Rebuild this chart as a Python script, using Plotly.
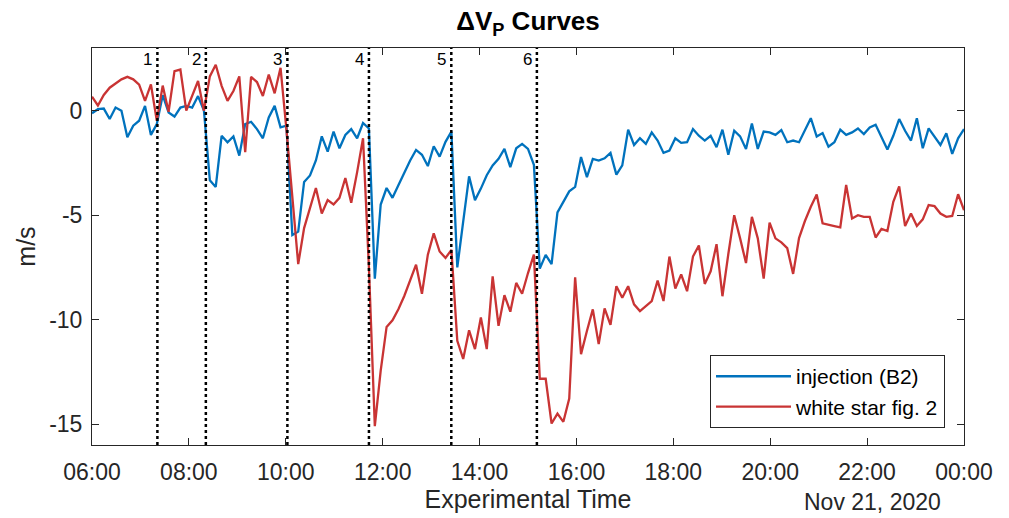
import pandas as pd
import plotly.graph_objects as go

start_time = "2020-11-21 06:00"
end_time = "2020-11-22 00:00"
n_points = 149

blue_vals = [
    -0.12, 0.07, 0.10, -0.40, 0.15, 0.00, -1.27, -0.72, -0.48, 0.23,
    -1.16, -0.64, 0.74, -0.09, -0.28, 0.15, 0.23, 0.15, 0.70, 0.00,
    -3.33, -3.65, -1.20, -1.51, -1.23, -2.15, -0.64, -0.53, -0.88, -1.32,
    -0.32, 0.23, -0.80, -0.72, -5.95, -5.79, -3.41, -3.10, -2.38, -1.23,
    -1.96, -1.00, -1.80, -1.16, -0.88, -1.32, -0.59, -0.85, -8.04, -4.49,
    -3.70, -4.17, -3.57, -2.98, -2.38, -1.88, -2.11, -2.65, -1.70, -2.20,
    -1.49, -1.00, -7.50, -5.31, -3.14, -4.28, -3.73, -3.09, -2.62, -2.30,
    -1.83, -2.70, -1.80, -1.59, -1.83, -2.59, -7.56, -6.90, -7.34, -4.87,
    -4.33, -3.86, -3.65, -2.22, -3.18, -2.31, -2.39, -2.28, -2.02, -3.06,
    -2.62, -0.91, -1.64, -1.32, -1.59, -1.04, -1.43, -2.02, -1.91, -1.32,
    -1.54, -1.51, -0.88, -1.20, -1.43, -1.20, -1.75, -0.91, -2.11, -0.96,
    -1.23, -1.83, -0.61, -1.83, -1.00, -1.04, -1.16, -0.93, -1.51, -1.43,
    -1.51, -0.96, -0.36, -1.24, -1.07, -1.72, -1.51, -0.91, -1.16, -1.04,
    -0.85, -1.12, -0.80, -0.67, -1.27, -1.86, -1.20, -0.40, -0.96, -1.43,
    -0.36, -1.80, -0.85, -1.27, -1.64, -1.08, -2.07, -1.32, -0.88,
]

red_vals = [
    0.67, 0.25, 0.75, 1.10, 1.30, 1.50, 1.62, 1.50, 1.25, 0.47,
    1.26, -0.48, 1.20, -0.05, 1.89, 1.97, 0.00, 0.70, 1.42, 0.00,
    1.64, 2.20, 1.19, 0.47, 0.94, 1.64, -1.99, 1.62, 1.37, 0.70,
    1.73, 0.83, 2.05, -0.90, -4.30, -7.34, -5.62, -4.68, -3.70, -4.92,
    -4.28, -4.49, -4.17, -3.22, -4.41, -2.94, -1.32, -7.50, -15.10, -12.44,
    -10.35, -10.03, -9.50, -8.87, -8.16, -7.37, -8.76, -6.89, -5.87, -6.74,
    -7.05, -6.66, -11.01, -11.88, -10.51, -11.41, -9.90, -11.41, -7.93, -10.30,
    -8.83, -9.62, -8.24, -8.76, -7.77, -6.89, -12.83, -12.83, -14.97, -14.50,
    -14.89, -13.78, -7.97, -11.65, -10.54, -9.51, -11.17, -9.46, -10.25, -8.40,
    -8.95, -8.40, -9.27, -9.59, -9.35, -9.11, -8.13, -9.11, -6.98, -8.51,
    -7.84, -8.64, -6.98, -6.45, -8.29, -7.69, -6.39, -8.88, -6.86, -5.00,
    -6.11, -7.29, -5.08, -6.11, -8.04, -5.36, -6.11, -6.30, -6.58, -7.81,
    -6.10, -5.28, -4.60, -4.01, -5.39, -5.47, -5.52, -5.58, -3.55, -5.16,
    -5.00, -5.08, -5.08, -6.07, -5.66, -5.76, -4.36, -3.62, -5.52, -4.92,
    -5.52, -5.20, -4.52, -4.57, -4.92, -5.08, -5.04, -4.00, -4.76,
]

event_times = ["2020-11-21 07:21", "2020-11-21 08:21", "2020-11-21 10:02",
               "2020-11-21 11:43", "2020-11-21 13:25", "2020-11-21 15:11"]
event_labels = ["1", "2", "3", "4", "5", "6"]

series_names = ["injection (B2)", "white star fig. 2"]
y_ticks = [0, -5, -10, -15]
y_tick_labels = ["0", "-5", "-10", "-15"]

times = pd.date_range(start_time, end_time, periods=n_points)

FONT = "Liberation Sans, Arial, Helvetica, sans-serif"
BLUE = "#0072BD"
RED = "#C93434"
AX = "#262626"

fig = go.Figure()
fig.add_trace(go.Scatter(x=times, y=blue_vals, mode="lines", name=series_names[0],
                         line=dict(color=BLUE, width=2.3)))
fig.add_trace(go.Scatter(x=times, y=red_vals, mode="lines", name=series_names[1],
                         line=dict(color=RED, width=2.3)))

for t, lab in zip(event_times, event_labels):
    fig.add_shape(type="line", xref="x", yref="paper", x0=t, x1=t, y0=0, y1=1,
                  line=dict(color="black", width=2.5, dash="dot"), layer="above")
    fig.add_annotation(x=t, y=1, xref="x", yref="paper", text=lab, showarrow=False,
                       xanchor="right", yanchor="top", xshift=-3, yshift=0,
                       font=dict(family=FONT, size=17, color="black"))

fig.add_annotation(x=(872 - 92) / 872, y=0, xref="paper", yref="paper", text="Nov 21, 2020",
                   showarrow=False, xanchor="center", yanchor="middle", yshift=-57,
                   font=dict(family=FONT, size=23, color=AX))

fig.update_layout(
    width=1009, height=518,
    margin=dict(l=92, r=45, t=48, b=71),
    paper_bgcolor="white", plot_bgcolor="white",
    title=dict(text="<b>ΔV<sub>P</sub> Curves</b>",
               x=(92 + 964) / 2 / 1009, xanchor="center",
               y=1 - 21 / 518, yanchor="middle",
               font=dict(family=FONT, size=26, color="black")),
    font=dict(family=FONT, size=23, color=AX),
    showlegend=True,
    legend=dict(x=(945 - 92) / 872, xanchor="right", y=(447 - 430) / 399, yanchor="bottom",
                bgcolor="white", bordercolor=AX, borderwidth=1,
                font=dict(family=FONT, size=21, color="black"),
                itemwidth=75, tracegroupgap=0),
)

fig.update_xaxes(
    range=[start_time, end_time], type="date",
    tickformat="%H:%M", dtick=2 * 3600 * 1000, tick0=start_time,
    ticks="inside", ticklen=7, tickcolor=AX, tickwidth=1,
    showline=True, linecolor=AX, linewidth=1, mirror="allticks",
    showgrid=False, zeroline=False, ticklabelstandoff=6,
    tickfont=dict(family=FONT, size=23, color=AX),
    title=dict(text="Experimental Time", standoff=4, font=dict(family=FONT, size=25, color=AX)),
)
fig.update_yaxes(
    range=[-16, 3], tickvals=y_ticks, ticktext=y_tick_labels,
    ticks="inside", ticklen=7, tickcolor=AX, tickwidth=1,
    showline=True, linecolor=AX, linewidth=1, mirror="allticks",
    showgrid=False, zeroline=False, ticklabelstandoff=4,
    tickfont=dict(family=FONT, size=23, color=AX),
    title=dict(text="m/s", standoff=6, font=dict(family=FONT, size=25, color=AX)),
)

fig.write_html("out.html")
